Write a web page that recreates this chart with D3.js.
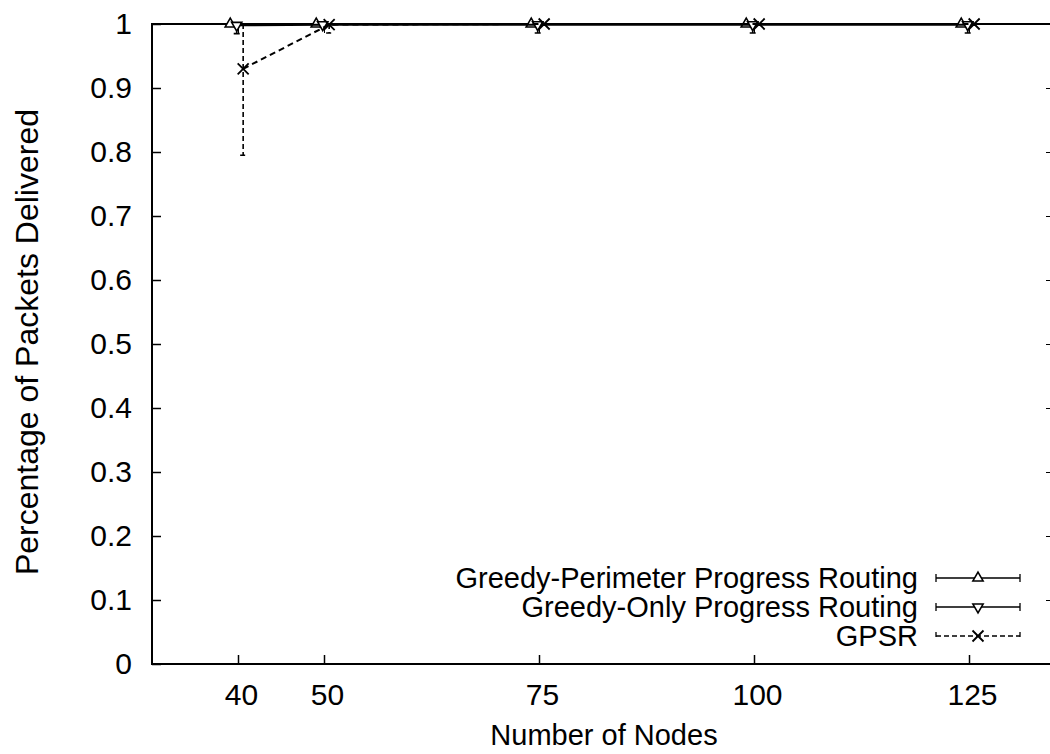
<!DOCTYPE html>
<html><head><meta charset="utf-8">
<script src="https://cdn.jsdelivr.net/npm/d3@7"></script>
<style>body{margin:0;background:#fff}svg{display:block}text{font-family:"Liberation Sans",Arial,Helvetica,sans-serif;fill:#000}</style>
</head><body><svg id="c" width="1050" height="754"></svg>
<script>
const nodes = [40, 50, 75, 100, 125];
const xTicks = [40, 50, 75, 100, 125];
const yTicks = [0, 0.1, 0.2, 0.3, 0.4, 0.5, 0.6, 0.7, 0.8, 0.9, 1];
const seriesNames = ["Greedy-Perimeter Progress Routing", "Greedy-Only Progress Routing", "GPSR"];
const gpprMean = [1, 1, 1, 1, 1];
const gpprLow  = [1, 0.998, 0.998, 0.998, 0.998];
const gpprHigh = [1, 1, 1, 1, 1];
const goprMean = [0.998, 0.999, 0.999, 0.999, 0.999];
const goprLow  = [0.985, 0.995, 0.986, 0.986, 0.986];
const goprHigh = [1, 1, 1, 1, 1];
const gpsrMean = [0.93, 0.999, 1, 1, 1];
const gpsrLow  = [0.795, 0.986, 0.998, 0.998, 0.998];
const gpsrHigh = [1, 1, 1, 1, 1];

const svg = d3.select("#c");
const L = 152, R = 1055, T = 24, B = 664;
const x = d3.scaleLinear().domain([30, 135]).range([L, R]);
const y = d3.scaleLinear().domain([0, 1]).range([B, T]);
const fmtY = d => d === 0 ? "0" : d === 1 ? "1" : d.toFixed(1);

// frame
svg.append("rect").attr("x", L).attr("y", T).attr("width", R - L).attr("height", B - T)
  .attr("fill", "none").attr("stroke", "#000").attr("stroke-width", 2);

// y axis
const yAx = svg.append("g").attr("transform", `translate(${L},0)`)
  .call(d3.axisLeft(y).tickValues(yTicks).tickFormat(fmtY).tickSize(-9).tickPadding(20));
yAx.select(".domain").remove();
yAx.selectAll("line").attr("stroke-width", 1.5);
yAx.selectAll("text").style("font-size", "30px");
const yAxR = svg.append("g").attr("transform", `translate(${R},0)`)
  .call(d3.axisRight(y).tickValues(yTicks).tickFormat("").tickSize(-9));
yAxR.select(".domain").remove();

// x axis
const xAx = svg.append("g").attr("transform", `translate(0,${B})`)
  .call(d3.axisBottom(x).tickValues(xTicks).tickFormat(d3.format("d")).tickSize(-9).tickPadding(20));
xAx.select(".domain").remove();
xAx.selectAll("line").attr("stroke-width", 1.5);
xAx.selectAll("text").style("font-size", "30px").attr("dx", 3);
const xAxT = svg.append("g").attr("transform", `translate(0,${T})`)
  .call(d3.axisTop(x).tickValues(xTicks).tickFormat("").tickSize(-9));
xAxT.select(".domain").remove();

// labels
svg.append("text").attr("x", 604).attr("y", 745).attr("text-anchor", "middle")
  .style("font-size", "29px").text("Number of Nodes");
svg.append("text").attr("transform", "translate(38,342) rotate(-90)").attr("text-anchor", "middle")
  .style("font-size", "32px").text("Percentage of Packets Delivered");

const series = [
  {name: seriesNames[0], mean: gpprMean, low: gpprLow, high: gpprHigh, dx: -0.9, sym: "up", dash: null},
  {name: seriesNames[1], mean: goprMean, low: goprLow, high: goprHigh, dx: -0.15, sym: "down", dash: null},
  {name: seriesNames[2], mean: gpsrMean, low: gpsrLow, high: gpsrHigh, dx: 0.6, sym: "x", dash: "6,4"}
];

function marker(g, cx, cy, sym) {
  if (sym === "x") {
    const s = 5.5;
    g.append("path").attr("d", `M${cx - s},${cy - s}L${cx + s},${cy + s}M${cx - s},${cy + s}L${cx + s},${cy - s}`)
      .attr("stroke", "#000").attr("stroke-width", 1.8).attr("fill", "none");
  } else {
    g.append("path").attr("d", d3.symbol(d3.symbolTriangle, 45)())
      .attr("transform", `translate(${cx},${cy}) rotate(${sym === "down" ? 180 : 0})`)
      .attr("fill", "#fff").attr("stroke", "#000").attr("stroke-width", 1.6);
  }
}

series.forEach(s => {
  const g = svg.append("g");
  const pts = nodes.map((n, i) => ({x: x(n + s.dx), y: y(s.mean[i]), lo: y(s.low[i]), hi: y(s.high[i])}));
  g.append("path").attr("d", d3.line().x(d => d.x).y(d => d.y)(pts))
    .attr("fill", "none").attr("stroke", "#000").attr("stroke-width", 2)
    .attr("stroke-dasharray", s.dash);
  pts.forEach(p => {
    g.append("path").attr("d", `M${p.x},${p.hi}L${p.x},${p.lo}M${p.x - 3},${p.lo}L${p.x + 3},${p.lo}M${p.x - 3},${p.hi}L${p.x + 3},${p.hi}`)
      .attr("stroke", "#000").attr("stroke-width", 1.6).attr("fill", "none")
      .attr("stroke-dasharray", s.dash ? "5,3" : null);
    marker(g, p.x, p.y, s.sym);
  });
});

// legend
const legY = [578, 607, 636];
series.forEach((s, i) => {
  const ly = legY[i];
  svg.append("text").attr("x", 918).attr("y", ly + 10).attr("text-anchor", "end")
    .style("font-size", "29px").text(s.name);
  const g = svg.append("g");
  g.append("path").attr("d", `M936,${ly}L1020,${ly}M936,${ly - 4}L936,${ly + 4}M1020,${ly - 4}L1020,${ly + 4}`)
    .attr("stroke", "#000").attr("stroke-width", 1.3).attr("fill", "none")
    .attr("stroke-dasharray", s.dash ? "5,3" : null);
  marker(g, 978, ly, s.sym);
});
</script></body></html>
